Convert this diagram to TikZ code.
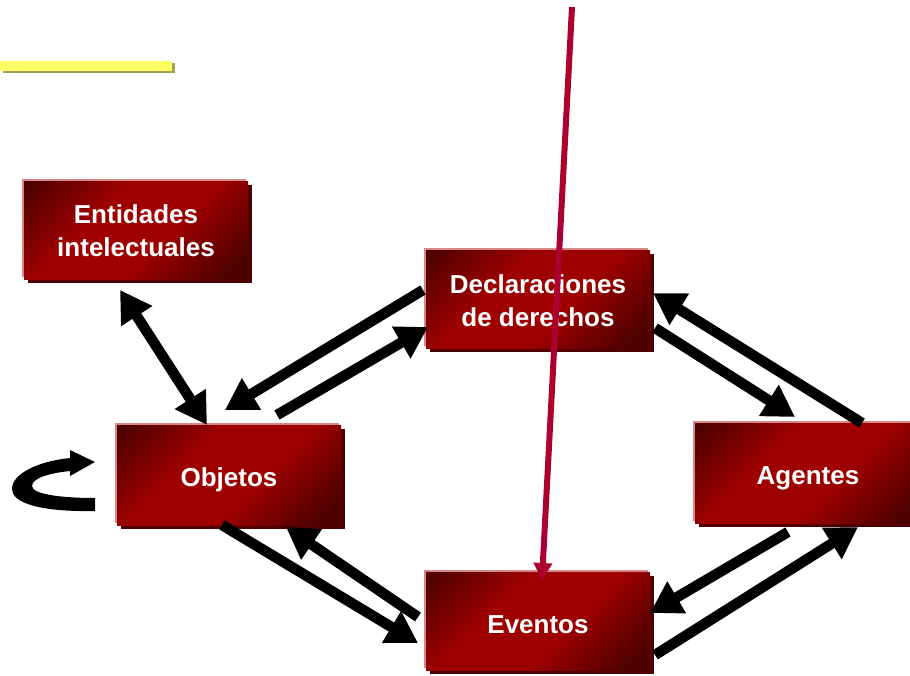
\documentclass[tikz,border=0pt]{standalone}
\usepackage{fontspec}
\setmainfont{Liberation Sans}
\usetikzlibrary{arrows.meta,shadows}
\definecolor{bxdark}{RGB}{78,0,0}
\definecolor{bxred}{RGB}{158,0,0}
\definecolor{bxshadow}{RGB}{80,0,0}
\definecolor{bxpink}{RGB}{215,135,135}
\definecolor{redline}{RGB}{172,0,48}
\definecolor{barYellow}{RGB}{255,255,102}
\definecolor{barShadow}{RGB}{160,160,80}
\pgfdeclareverticalshading{boxshade}{100bp}{color(0bp)=(bxdark); color(20bp)=(bxdark); color(42bp)=(bxred); color(62bp)=(bxred); color(84bp)=(bxdark); color(100bp)=(bxdark)}
\begin{document}
\begin{tikzpicture}[x=1pt,y=-1pt,
  box/.style={shading=boxshade, shading angle=45, minimum width=224pt, minimum height=98pt,
    inner sep=0pt, outer sep=0pt,
    general shadow={fill=bxpink, shadow xshift=-2pt, shadow yshift=2pt},
    drop shadow={fill=bxshadow, shadow xshift=4pt, shadow yshift=-4pt, opacity=1}},
  lbl/.style={inner sep=0pt, text=white, font=\bfseries\fontsize{26}{33}\selectfont, align=center},
  conn/.style={line width=10.5pt, -{Triangle[length=31pt,width=35pt]}},
  dconn/.style={line width=10.5pt, {Triangle[length=31pt,width=35pt]}-{Triangle[length=31pt,width=35pt]}},
  redconn/.style={draw=redline, line width=6pt, -{Triangle[length=17pt,width=18pt]}}
  ]
\clip (0,0) rectangle (910,675);
\fill[white] (0,0) rectangle (910,675);
% yellow bar
\fill[barShadow] (3,63) rectangle (175,73);
\fill[barYellow] (0,61) rectangle (172,71);
% boxes
\node[box] (ent) at (136,230) {};
\node[box] (dec) at (538,299) {};
\node[box, minimum height=100pt] (obj) at (229,475) {};
\node[box, minimum height=100pt, minimum width=226pt] (age) at (808,473) {};
\node[box] (evt) at (538,621) {};
% labels
\node[lbl] (entT) at ([shift={(0,1)}]ent.center) {Entidades\\intelectuales};
\node[lbl] (decT) at ([shift={(0,2)}]dec.center) {Declaraciones\\de derechos};
\node[lbl] (objT) at ([shift={(0,5)}]obj.center) {Objetos};
\node[lbl] (ageT) at ([shift={(0,5)}]age.center) {Agentes};
\node[lbl] (evtT) at ([shift={(0,4)}]evt.center) {Eventos};
% connectors
\draw[dconn] ([shift={(96,11)}]ent.south west) -- ([shift={(90,0)}]obj.north west);
\draw[conn] ([shift={(-3,-9)}]dec.west) -- ([shift={(108,-15)}]obj.north west);
\draw[conn] ([shift={(160,-10)}]obj.north west) -- ([shift={(2,28)}]dec.west);
\draw[conn] ([shift={(167,0)}]age.north west) -- ([shift={(3,-6)}]dec.east);
\draw[conn] ([shift={(5,29)}]dec.east) -- ([shift={(100,-6)}]age.north west);
\draw[conn] ([shift={(93,9)}]age.south west) -- ([shift={(0,-8)}]evt.east);
\draw[conn] ([shift={(5,34)}]evt.east) -- ([shift={(163,4)}]age.south west);
\draw[conn] ([shift={(105,0)}]obj.south west) -- ([shift={(-8,22)}]evt.west);
\draw[conn] ([shift={(-8,-4)}]evt.west) -- ([shift={(169,2)}]obj.south west);
% self loop on Objetos
\fill (95,511) .. controls (40,512) and (12,503) .. (12,489)
  .. controls (12,473) and (40,461) .. (70,458) -- (70,450) -- (95,462) -- (70,476) -- (70,471)
  .. controls (50,473) and (32,478) .. (32,486)
  .. controls (32,494) and (60,498) .. (95,498) -- cycle;
% red line
\coordinate (rtop) at (572,7);
\draw[redconn] (rtop) -- ([shift={(4,8)}]evt.north);
\end{tikzpicture}
\end{document}
